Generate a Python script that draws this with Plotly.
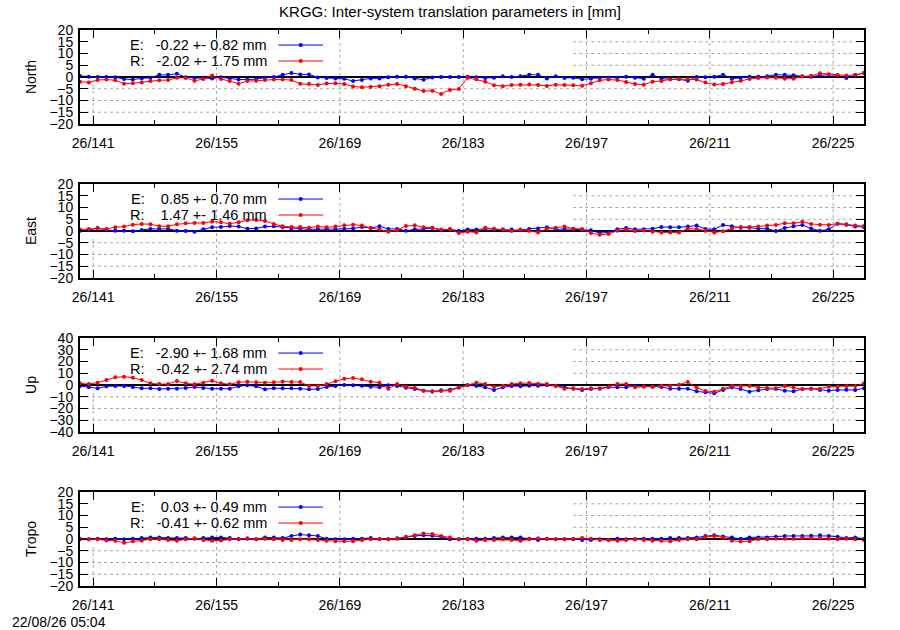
import numpy as np
import plotly.graph_objects as go
from plotly.subplots import make_subplots

# daily solutions, doy 139.5 .. 228.5 (year 2026)
days = np.arange(139.5, 229.0, 1.0)
tick_days = [141, 155, 169, 183, 197, 211, 225]
minor_days = [148, 162, 176, 190, 204, 218]
tick_text = ["26/%d" % d for d in tick_days]

panels = ["North", "East", "Up", "Tropo"]
y_limits = [20, 20, 40, 20]
y_steps = [5, 5, 10, 5]

# E = Galileo, R = GLONASS translation wrt GPS [mm]
north_e = [0.4, 0.1, 0, 0, -0.1, -0.9, -1.1, -0.6, -0.3, 0.9, 0.9, 1.4, -0.1, -0.4, -0.6,
           -0.6, -0.1, -0.6, -1.1, -1.1, -0.9, -0.3, 0, 0.9, 1.7, 1.1, 1.1, -0.2, -0.4, -0.6,
           -0.8, -1.7, -1.3, -0.6, -0.6, -0.1, 0.1, 0.1, -0.6, -1.2, -0.2, 0, 0, 0, 0.1,
           -0.1, -0.4, -0.3, 0.3, 0, 0.3, 1.0, 0.9, -0.6, 0.3, -0.4, -0.3, -1.0, -0.7, -0.3,
           -0.3, -0.3, 0.1, -0.3, -0.7, 0.9, -0.7, -1.0, -1.0, -1.6, 0, -0.1, 0.1, 1.0, -0.7,
           -0.4, 0.1, 0.1, 0.3, 1.0, 1.0, 0.7, 0.3, 0.1, 0.7, 1.0, 0.7, -0.4, 0.7, 1.7]
north_r = [-2.0, -2.3, -1.3, -1.1, -1.4, -2.9, -2.7, -2.3, -1.7, -1.4, -1.3, -0.3, -0.4, -1.6, -0.9,
           0.6, -0.9, -1.7, -2.9, -1.7, -1.6, -1.3, -1.1, -1.1, -1.3, -2.9, -3.0, -3.4, -2.8, -2.7,
           -3.0, -4.0, -4.4, -4.3, -3.9, -3.3, -3.0, -3.9, -5.0, -6.0, -5.9, -7.2, -5.5, -5.1, -0.3,
           -1.0, -2.0, -3.5, -3.9, -3.4, -3.3, -3.2, -3.4, -3.8, -3.3, -3.4, -3.5, -3.7, -2.7, -1.4,
           -1.1, -1.3, -2.1, -3.0, -3.3, -2.0, -1.7, -1.0, -0.9, -0.9, -1.1, -2.4, -3.2, -3.0, -2.2,
           -1.6, -0.9, -0.4, -0.2, -0.3, -0.7, -0.7, 0.2, 0.5, 1.6, 1.2, 0.8, 0.6, 0.9, 1.7]
east_e = [0.1, 0.4, 1.3, 0.4, 0.1, 0.1, -0.1, 0.4, 0.9, 0.9, 0.9, 0.1, 0, -0.3, 0.7,
          1.6, 1.7, 2.1, 1.9, 1.0, 1.1, 1.9, 2.0, 1.6, 1.1, 1.0, 0.7, 0.7, 0.7, 0.6,
          0.9, 1.1, 1.7, 1.3, 2.0, 0.9, 0.9, 0.1, 0.7, 0.9, 1.3, 0.3, 0.7, 0.1, 0.6,
          0.6, 1.0, 0.7, 0.6, 0.6, 0.3, 0.9, 1.1, 1.6, 0.7, 0.9, 0.7, 0.4, 0.3, -0.9,
          -0.6, 0.7, 1.3, 0.7, 0.7, 1.0, 1.7, 1.6, 1.6, 1.9, 2.3, 0.9, 0.7, 2.6, 2.0,
          1.4, 1.4, 1.0, 1.0, 0, 1.3, 2.0, 2.6, 1.1, 0.1, 0.7, 3.1, 2.7, 1.9, 1.7]
east_r = [0.6, 0.9, 1.0, 0.9, 1.6, 1.9, 2.7, 3.0, 2.9, 2.0, 2.0, 2.9, 3.3, 3.4, 3.4,
          4.0, 3.7, 3.1, 3.7, 4.6, 4.7, 4.3, 3.0, 2.0, 1.7, 1.7, 1.4, 1.9, 1.6, 1.9,
          2.4, 2.7, 2.3, 1.3, 0.7, -0.3, 0.4, 2.1, 2.4, 1.6, 1.4, 0.6, 0.7, -0.9, -0.3,
          -0.6, 1.4, 1.0, 0.6, 0, 0.6, 0.1, -0.6, 1.0, 1.4, 1.9, 1.0, 0.9, -0.9, -1.6,
          -1.3, 0.1, 0.6, 0, 0.3, -0.3, -0.6, -0.6, -0.6, 1.0, 0.9, 0.1, -0.6, -0.1, 1.1,
          1.7, 1.7, 1.9, 2.3, 2.6, 3.3, 3.3, 3.9, 3.0, 2.7, 2.6, 3.1, 2.9, 2.3, 2.1]
up_e = [-0.8, -2.0, -2.8, -1.1, -0.8, -0.8, -1.7, -2.8, -2.8, -3.4, -3.1, -3.1, -2.5, -1.7, -2.5,
        -3.1, -3.1, -3.1, -1.1, -0.3, -1.1, -3.7, -2.8, -2.8, -2.8, -3.1, -3.7, -3.4, -1.7, -0.8,
        0, -0.3, -0.6, -1.4, -2.0, -0.3, -0.8, -2.3, -3.4, -4.8, -5.4, -4.5, -4.0, -2.0, -0.3,
        -0.8, -2.0, -4.2, -2.0, -0.8, -1.1, -0.6, -0.6, 0, -0.6, -2.0, -3.1, -4.2, -3.4, -3.1,
        -2.0, -2.0, -2.0, -0.8, -0.8, -1.4, -1.7, -3.1, -3.1, -3.1, -5.4, -6.2, -7.1, -4.2, -2.0,
        -3.4, -5.7, -4.5, -3.4, -3.4, -4.8, -5.4, -3.4, -3.1, -4.2, -4.8, -4.2, -4.0, -4.2, -2.8]
up_r = [1.4, 0.8, 2.0, 4.2, 6.5, 7.1, 6.2, 4.2, 1.4, 0.8, 0.8, 3.4, 1.4, 0.6, 2.0,
        3.7, 1.4, 0.6, 2.3, 2.8, 2.3, 2.0, 2.3, 2.8, 2.5, 2.5, -0.8, -0.8, 0.8, 3.1,
        5.4, 5.9, 4.8, 2.8, 2.0, -3.1, 0.8, -1.4, -2.3, -4.8, -5.7, -5.1, -4.8, -2.3, 0,
        2.0, 0.8, -1.4, -0.6, 0.8, 1.4, 1.7, 1.1, 0.8, -0.8, -3.1, -2.8, -3.4, -2.8, -2.8,
        -1.4, 0.8, 0.8, -2.0, -1.4, -1.4, -0.6, -0.8, 0.3, 2.5, -2.3, -5.1, -5.7, -3.1, -0.8,
        -0.8, -0.8, -2.0, -2.5, -2.8, -0.8, -2.0, -3.7, -3.1, -3.1, -1.4, -1.4, -0.8, -0.8, 1.4]
tropo_e = [0.1, -0.1, 0.1, -0.1, 0.1, -0.1, 0.1, 0.4, 0.6, 0.6, 0.4, 0.4, 0.4, 0.1, 0.4,
           0.7, 0.7, 0.4, -0.1, 0.1, -0.1, 0.7, 0.7, 0.4, 1.3, 1.9, 1.6, 1.3, 0.1, -0.1,
           -0.1, 0.1, 0.1, 0.4, -0.1, -0.1, 0.3, 0.9, 1.3, 1.6, 1.4, 1.0, -0.1, -0.1, 0,
           0.1, 0.1, 0.4, 0.6, 0.6, 0.6, 0.1, -0.4, 0.1, -0.1, -0.1, -0.1, -0.4, -0.4, -0.1,
           -0.4, 0.1, -0.1, -0.1, 0.1, 0.1, 0.1, 0.4, 0.4, 0.4, 0.7, 1.3, 1.6, 1.1, 0.7,
           0.1, 0.7, 0.7, 0.7, 1.0, 1.3, 1.3, 1.3, 1.4, 1.6, 1.3, 1.0, 0.4, 0.7, 0.1]
tropo_r = [-0.1, -0.1, -0.1, -0.6, -0.7, -1.6, -1.0, -0.7, -0.1, -0.1, -0.4, -0.7, -0.1, 0.3, -0.4,
           -0.7, -0.6, -0.1, 0.1, 0.3, -0.1, 0.1, -0.1, -0.4, -0.4, -0.1, -0.1, -0.4, -0.7, -0.9,
           -1.0, -0.9, -0.4, -0.1, 0.1, -0.1, 0.1, 0.9, 1.6, 2.4, 2.1, 1.3, 0.6, -0.1, -0.1,
           -0.7, -0.4, -0.4, -0.1, -0.4, -0.7, -0.1, 0.3, 0.1, -0.1, -0.1, 0.1, 0.4, 0.1, -0.4,
           -0.4, -0.7, -0.4, -0.1, -0.4, -0.7, -0.7, -1.0, -0.4, -0.1, -0.1, 0.9, 1.3, 0.7, -0.7,
           -1.1, -0.9, -0.1, -0.1, 0.1, 0.1, 0.1, 0.4, 0.4, 0.4, 0.1, -0.1, 0.1, -0.1, -0.4]

e_series = [north_e, east_e, up_e, tropo_e]
r_series = [north_r, east_r, up_r, tropo_r]
e_mean = [-0.22, 0.85, -2.90, 0.03]
e_rms = [0.82, 0.70, 1.68, 0.49]
r_mean = [-2.02, 1.47, -0.42, -0.41]
r_rms = [1.75, 1.46, 2.74, 0.62]

FONT = "Liberation Sans, Arial, sans-serif"
GRID = "#a8a8a8"
NB = "\u00a0"

fig = make_subplots(rows=4, cols=1)

# panel heights 94px, gaps 60px inside a 556px plot area
domains = [[0.831, 1.0], [0.554, 0.723], [0.277, 0.446], [0.0, 0.169]]

shapes = []
annotations = []
for i, name in enumerate(panels):
    row = i + 1
    ax = "" if i == 0 else str(row)
    lim = y_limits[i]
    step = y_steps[i]

    for series, col, lab in [(e_series[i], "#0000ff", "E"), (r_series[i], "#ff0000", "R")]:
        fig.add_trace(go.Scatter(x=days, y=series, mode="lines+markers",
                                 line=dict(color=col, width=1),
                                 marker=dict(color=col, size=4),
                                 cliponaxis=False, showlegend=False, name=lab),
                      row=row, col=1)

    # gnuplot-like key: right-justified text with a sample to its right
    for lab, col, m, s, yk in [("E", "#0000ff", e_mean[i], e_rms[i], 0.84),
                               ("R", "#ff0000", r_mean[i], r_rms[i], 0.67)]:
        txt = ("%s:  %6.2f +- %4.2f mm" % (lab, m, s)).replace(" ", NB)
        annotations.append(dict(text=txt, xref="x%s domain" % ax, yref="y%s domain" % ax,
                                x=0.241, y=yk, xanchor="right", yanchor="middle",
                                showarrow=False, font=dict(family=FONT, size=14.5, color="black")))
        shapes.append(dict(type="line", xref="x%s domain" % ax, yref="y%s domain" % ax,
                           x0=0.253, x1=0.31, y0=yk, y1=yk, line=dict(color=col, width=1),
                           layer="above"))
        shapes.append(dict(type="circle", xref="x%s domain" % ax, yref="y%s domain" % ax,
                           x0=0.2815 - 0.0026, x1=0.2815 + 0.0026, y0=yk - 0.021, y1=yk + 0.021,
                           fillcolor=col, line=dict(color=col, width=0), layer="above"))

    # dotted grid, hidden behind the key area like the original
    for v in range(-lim + step, lim, step):
        if v == 0:
            continue
        shapes.append(dict(type="line", xref="x%s" % ax, yref="y%s" % ax,
                           x0=195.5 if v > 0 else 139.5, x1=228.5, y0=v, y1=v,
                           line=dict(color=GRID, width=1, dash="dot"), layer="below"))
    for d in tick_days:
        top = (-0.15 * lim) if d == tick_days[0] else lim
        shapes.append(dict(type="line", xref="x%s" % ax, yref="y%s" % ax,
                           x0=d, x1=d, y0=-lim, y1=top,
                           line=dict(color=GRID, width=1, dash="dot"), layer="below"))

    fig.update_xaxes(range=[139.5, 228.5], tickvals=tick_days, ticktext=tick_text,
                     ticks="inside", ticklen=8, tickwidth=1, tickcolor="black",
                     minor=dict(tickvals=minor_days, ticks="inside", ticklen=4,
                                tickcolor="black"),
                     showline=True, linecolor="black", linewidth=2, mirror="ticks",
                     showgrid=False, zeroline=False, ticklabelstandoff=5, automargin=False,
                     tickfont=dict(family=FONT, size=14, color="black"),
                     row=row, col=1)
    fig.update_yaxes(range=[-lim, lim], tickvals=list(range(-lim, lim + 1, step)),
                     domain=domains[i],
                     ticks="inside", ticklen=8, tickwidth=1, tickcolor="black",
                     showline=True, linecolor="black", linewidth=2, mirror="ticks",
                     showgrid=False, zeroline=True, zerolinecolor="black", zerolinewidth=2,
                     ticklabelstandoff=2, automargin=False,
                     tickfont=dict(family=FONT, size=14, color="black"),
                     title=dict(text=name, standoff=10,
                                font=dict(family=FONT, size=14, color="black")),
                     row=row, col=1)

annotations.append(dict(text="22/08/26 05:04", xref="paper", yref="paper",
                        x=-0.0893, y=-0.0647, xanchor="left", yanchor="middle",
                        showarrow=False, font=dict(family=FONT, size=14, color="black")))

fig.update_layout(
    width=900, height=630,
    margin=dict(l=80, r=36, t=30, b=44),
    paper_bgcolor="white", plot_bgcolor="white",
    font=dict(family=FONT, size=14, color="black"),
    title=dict(text="KRGG: Inter-system translation parameters in [mm]",
               x=0.5, xref="container", xanchor="center",
               y=1 - 12 / 630, yref="container", yanchor="middle",
               font=dict(family=FONT, size=15, color="black")),
    shapes=shapes, annotations=annotations, showlegend=False,
)

# the page body has a default 8px margin; drop it so the 900x630 figure fills the window
fig.write_html("out.html", config={"displayModeBar": False},
               post_script="document.body.style.margin='0';")
